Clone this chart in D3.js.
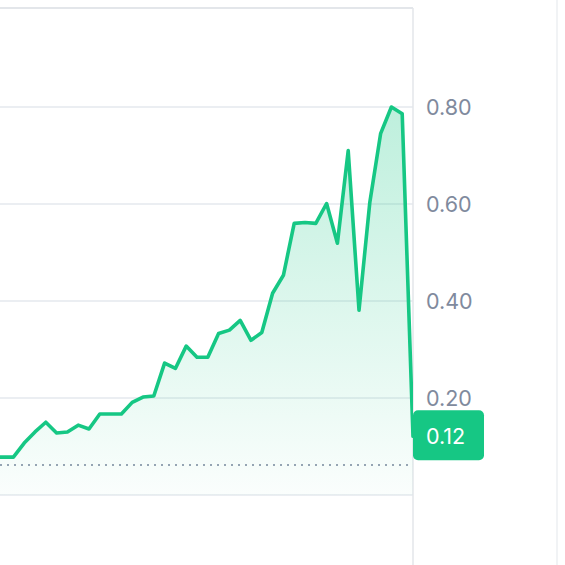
<!DOCTYPE html>
<html>
<head>
<meta charset="utf-8">
<script src="https://cdn.jsdelivr.net/npm/d3@7"></script>
<style>
  html, body { margin: 0; padding: 0; background: #ffffff; }
  svg { display: block; }
</style>
</head>
<body>
<svg id="chart" width="565" height="565"></svg>
<script>
// ---- data ----
const prices = [
  0.078, 0.078, 0.078, 0.107, 0.130, 0.150, 0.128, 0.130, 0.144, 0.136,
  0.167, 0.167, 0.167, 0.191, 0.202, 0.204, 0.272, 0.261, 0.307, 0.284,
  0.284, 0.333, 0.340, 0.360, 0.319, 0.335, 0.416, 0.453, 0.560, 0.562,
  0.560, 0.601, 0.519, 0.710, 0.381, 0.603, 0.745, 0.800, 0.786, 0.121
];
const yTicks = [0.20, 0.40, 0.60, 0.80];
const gridValues = [0, 0.20, 0.40, 0.60, 0.80];
const referencePrice = 0.062;
const currentLabel = "0.12";

// ---- layout ----
const W = 565, H = 565;
const plotLeft = 0, plotRight = 413, plotTop = 8, plotBottom = 495;
const green = "#16c784";

const svg = d3.select("#chart");

const x = d3.scaleLinear()
  .domain([0, prices.length - 1])
  .range([plotRight - (prices.length - 1) * 10.8, plotRight]);

const y = d3.scaleLinear()
  .domain([0, 1])
  .range([plotBottom, 10]);

// defs
const defs = svg.append("defs");
const grad = defs.append("linearGradient")
  .attr("id", "areaGrad")
  .attr("gradientUnits", "userSpaceOnUse")
  .attr("x1", 0).attr("y1", y(0.8)).attr("x2", 0).attr("y2", plotBottom);
grad.append("stop").attr("offset", "0%").attr("stop-color", green).attr("stop-opacity", 0.28);
grad.append("stop").attr("offset", "100%").attr("stop-color", green).attr("stop-opacity", 0.02);

defs.append("clipPath").attr("id", "plotClip")
  .append("rect").attr("x", plotLeft).attr("y", 0)
  .attr("width", plotRight - plotLeft).attr("height", H);

// gridlines
svg.append("g")
  .selectAll("line")
  .data(gridValues)
  .join("line")
  .attr("x1", plotLeft).attr("x2", plotRight)
  .attr("y1", d => y(d)).attr("y2", d => y(d))
  .attr("stroke", "#ebeef2").attr("stroke-width", 1.8);

// top border
svg.append("line")
  .attr("x1", plotLeft).attr("x2", plotRight)
  .attr("y1", plotTop).attr("y2", plotTop)
  .attr("stroke", "#e3e6ea").attr("stroke-width", 2);

// vertical borders
svg.append("line")
  .attr("x1", plotRight).attr("x2", plotRight)
  .attr("y1", plotTop).attr("y2", H)
  .attr("stroke", "#e3e6ea").attr("stroke-width", 1.5);
svg.append("line")
  .attr("x1", 557).attr("x2", 557)
  .attr("y1", 0).attr("y2", H)
  .attr("stroke", "#eceff2").attr("stroke-width", 1.5);

// reference dotted line
svg.append("line")
  .attr("x1", plotLeft).attr("x2", plotRight)
  .attr("y1", y(referencePrice)).attr("y2", y(referencePrice))
  .attr("stroke", "#9aa3b5").attr("stroke-width", 2)
  .attr("stroke-dasharray", "2,5");

const g = svg.append("g").attr("clip-path", "url(#plotClip)");

const area = d3.area()
  .x((d, i) => x(i))
  .y0(plotBottom)
  .y1(d => y(d));

const line = d3.line()
  .x((d, i) => x(i))
  .y(d => y(d));

g.append("path")
  .datum(prices)
  .attr("d", area)
  .attr("fill", "url(#areaGrad)");

g.append("path")
  .datum(prices)
  .attr("d", line)
  .attr("fill", "none")
  .attr("stroke", green)
  .attr("stroke-width", 3.6)
  .attr("stroke-linejoin", "round")
  .attr("stroke-linecap", "round");

// right axis
const axis = d3.axisRight(y)
  .tickValues(yTicks)
  .tickFormat(d3.format(".2f"))
  .tickSize(0)
  .tickPadding(13);

const axG = svg.append("g")
  .attr("transform", `translate(${plotRight},0)`)
  .call(axis);
axG.select(".domain").remove();
axG.selectAll("text")
  .attr("fill", "#808a9d")
  .attr("font-family", "Inter, 'Noto Sans', sans-serif")
  .attr("font-size", 21.5)
  .attr("dy", "0.35em");

// current price label
const last = prices[prices.length - 1];
const lbl = svg.append("g")
  .attr("transform", `translate(${plotRight},${y(last)})`);
lbl.append("rect")
  .attr("x", 0).attr("y", -26)
  .attr("width", 71).attr("height", 50)
  .attr("rx", 5)
  .attr("fill", green);
lbl.append("text")
  .attr("x", 13).attr("y", 0)
  .attr("dy", "0.35em")
  .attr("fill", "#ffffff")
  .attr("font-family", "Inter, 'Noto Sans', sans-serif")
  .attr("font-size", 21.5)
  .text(currentLabel);
</script>
</body>
</html>
